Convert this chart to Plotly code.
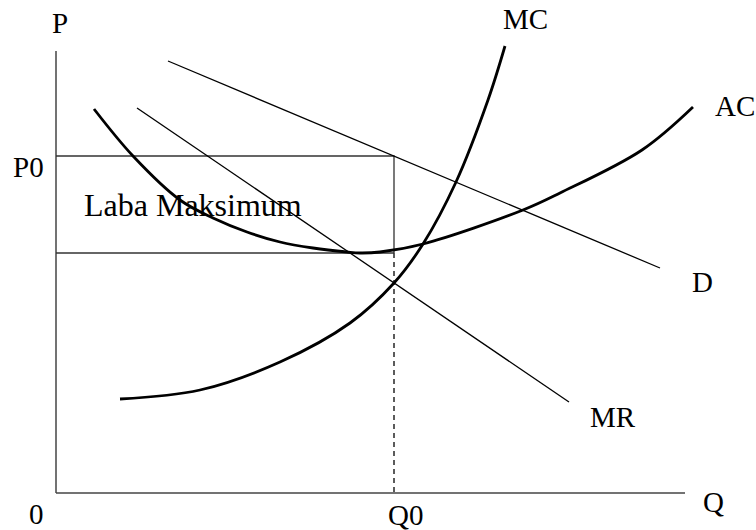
import plotly.graph_objects as go

# ---- data (Q, P units; origin at axis corner) ----
axis_q_max = 629
axis_p_max = 442

d_q = [112, 604]
d_p = [432, 225]

mr_q = [81, 513]
mr_p = [385, 91]

ac_q = [38, 77, 124, 157, 191, 224, 257, 291, 304, 324, 367, 467, 504, 586, 637]
ac_p = [384, 337, 293, 275, 261, 251, 245, 241, 240, 241, 249, 283, 300, 343, 386]

mc_q = [64, 144, 224, 294, 338, 367, 400, 432, 449]
mc_p = [94, 103, 131, 170, 210, 249, 311, 393, 447]

q0 = 338
p0 = 337
ac_at_q0 = 240

labels = ["P", "P0", "Laba Maksimum", "MC", "AC", "D", "MR", "Q", "0", "Q0"]
label_q = [4, -28, 137, 469, 679, 646, 557, 657, -20, 349]
label_p = [470, 326, 288, 474, 387, 211, 76, -9, -21, -22]
label_size = [29, 29, 32, 29, 29, 29, 29, 29, 29, 29]

FONT = "Liberation Serif"

fig = go.Figure()

def line(x, y, width, color="black", dash="solid", shape="linear"):
    ln = dict(color=color, width=width, dash=dash, shape=shape)
    if shape == "spline":
        ln["smoothing"] = 1.0
    fig.add_trace(go.Scatter(x=x, y=y, mode="lines", line=ln,
                             hoverinfo="skip", showlegend=False))

# axes
line([0, 0], [0, axis_p_max], 1.5, "#444")
line([0, axis_q_max], [0, 0], 1.5, "#444")

# profit rectangle
line([0, q0, q0], [p0, p0, ac_at_q0], 1.3, "#333")
line([0, q0], [ac_at_q0, ac_at_q0], 1.3, "#333")
line([q0, q0], [ac_at_q0, 0], 1.6, "#333", dash="5px,4px")

# demand and MR
line(d_q, d_p, 1.3)
line(mr_q, mr_p, 1.3)

# AC and MC curves
line(ac_q, ac_p, 2.8, shape="spline")
line(mc_q, mc_p, 2.8, shape="spline")

for t, x, y, s in zip(labels, label_q, label_p, label_size):
    fig.add_annotation(x=x, y=y, text=t, showarrow=False,
                       xanchor="center", yanchor="middle",
                       font=dict(family=FONT, size=s, color="black"))

fig.update_layout(
    width=756, height=530,
    margin=dict(l=0, r=0, t=0, b=0),
    paper_bgcolor="white", plot_bgcolor="white",
    xaxis=dict(range=[-56, 700], visible=False, fixedrange=True),
    yaxis=dict(range=[-37, 493], visible=False, fixedrange=True),
)

fig.write_html("out.html", config={"displayModeBar": False},
               post_script="document.body.style.margin='0';document.body.style.overflow='hidden';")
